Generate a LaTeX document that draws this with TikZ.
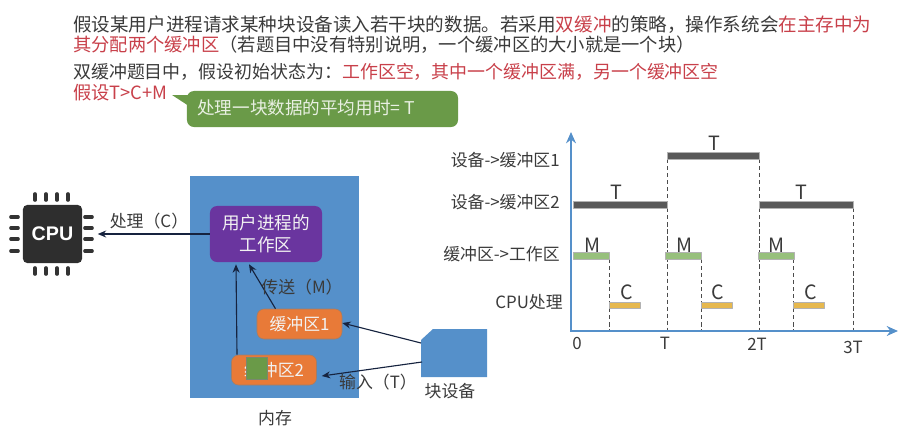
\documentclass[tikz,border=0pt]{standalone}
\usepackage{fontspec}
\setmainfont{Noto Sans CJK SC}
\newfontfamily\chipfont{Liberation Sans}
\usetikzlibrary{arrows.meta,calc,positioning}
\definecolor{memblue}{HTML}{5590CA}
\definecolor{procpurple}{HTML}{6A359F}
\definecolor{bufforange}{HTML}{E87A38}
\definecolor{notegreen}{HTML}{6A9A48}
\definecolor{hilite}{HTML}{C8404A}
\definecolor{inkgray}{HTML}{3A3A3A}
\definecolor{wirenavy}{HTML}{16233F}
\definecolor{movegreen}{HTML}{97C07C}
\definecolor{cpuyellow}{HTML}{E6B84E}
\newcommand{\hl}[1]{\textcolor{hilite}{#1}}
\tikzset{
  bodytext/.style={anchor=west,inner sep=0pt,font=\fontsize{13}{15}\selectfont,text=inkgray},
  label/.style={inner sep=0pt,font=\fontsize{12}{14}\selectfont,text=inkgray},
  barlabel/.style={label,font=\fontsize{14}{16}\selectfont},
  rowlabel/.style={label,anchor=east},
  boxtext/.style={inner sep=0pt,align=center,rounded corners=5pt,font=\fontsize{12}{15}\selectfont,text=white!90!gray},
  buffbox/.style={boxtext,fill=bufforange,draw=gray!70!bufforange,minimum width=2.125cm,minimum height=0.75cm},
  wire/.style={-{Stealth[length=6pt,width=5pt]},thick,draw=wirenavy},
  pin/.style={line width=2.6pt,line cap=round,draw=black!80},
  axisline/.style={-{Stealth[length=8pt,width=7pt]},line width=1.8pt,draw=memblue},
  guide/.style={densely dashed,line width=0.3pt,draw=black!70},
  inbar/.style={fill=black!65,draw=gray!60},
  movebar/.style={fill=movegreen,draw=gray!60},
  cpubar/.style={fill=cpuyellow,draw=gray!60},
}
\begin{document}
\begin{tikzpicture}[x=0.025cm,y=-0.025cm,>=Stealth,line join=round]
\useasboundingbox (0,0) rectangle (921,428);
% text lines on top
\node[bodytext,font=\fontsize{13.2}{15}\selectfont] (line1) at (73,25) {假设某用户进程请求某种块设备读入若干块的数据。若采用\hl{双缓冲}的策略，操作系统会\hl{在主存中为}};
\node[bodytext] (line2) at (73,45) {\hl{其分配两个缓冲区}（若题目中没有特别说明，一个缓冲区的大小就是一个块）};
\node[bodytext,font=\fontsize{12.75}{15}\selectfont] (line3) at (73,72) {双缓冲题目中，假设初始状态为：\hl{工作区空，其中一个缓冲区满，另一个缓冲区空}};
\node[bodytext,text=hilite] (line4) at (73,93) {假设T>C+M};
% green note with its tail
\fill[notegreen] (172,95) -- (192,95) -- (192,108) -- cycle;
\node[boxtext,fill=notegreen,minimum width=6.775cm,minimum height=0.9cm] (note) at (322.5,109) {};
\node[bodytext,font=\fontsize{12.5}{15}\selectfont,text=white!85!notegreen] (notetext) at (197,108) {处理一块数据的平均用时= T};
% cpu chip
\foreach \p in {35,46,57,68} {
  \draw[pin] (\p,194) -- (\p,200);
  \draw[pin] (\p,268) -- (\p,274);
}
\foreach \p in {217,228,239,251} {
  \draw[pin] (11,\p) -- (18,\p);
  \draw[pin] (85,\p) -- (92,\p);
}
\node[fill=black!82,rounded corners=3pt,minimum width=1.475cm,minimum height=1.45cm,inner sep=0pt,text=white,font=\chipfont\bfseries\fontsize{14}{16}\selectfont] (cpu) at (52.5,234) {CPU};
% memory
\node[fill=memblue,minimum width=4.225cm,minimum height=5.55cm,inner sep=0pt] (memory) at (274.5,287) {};
\node[boxtext,fill=procpurple,minimum width=2.8cm,minimum height=1.4cm,font=\fontsize{12.5}{16}\selectfont] (work) at (266,234) {用户进程的\\工作区};
\node[buffbox] (buff1) at (299.5,324) {缓冲区1};
\node[buffbox] (buff2) at (274,370) {缓冲区2};
\fill[notegreen,draw=gray!70!notegreen] (246,357) rectangle (267,379);
% block device
\fill[memblue] (421,340) -- (433,329) -- (487,329) -- (487,377) -- (421,377) -- cycle;
\coordinate (deviceup) at (421,343);
\coordinate (devicelow) at (422,362);
% connectors
\draw[wire,shorten >=11pt] (work.west) -- (cpu.east);
\draw[wire] ($(buff1.north)+(-24,0)$) -- ($(work.south)+(-17,2)$);
\draw[wire] ($(buff2.north)+(-37,0)$) -- ($(work.south)+(-30,2)$);
\draw[wire] (deviceup) -- ($(buff1.east)+(0,-1)$);
\draw[wire] (devicelow) -- ($(buff2.east)+(5,6)$);
% labels
\node[label] (proclabel) at (149,221) {处理（C）};
\node[label] (movelabel) at (302,287) {传送（M）};
\node[label] (inlabel) at (378,382) {输入（T）};
\node[label] (memlabel) at (275,418) {内存};
\node[label] (devlabel) at (450,391) {块设备};
% guides
\foreach \x/\y in {609/259,667/159,701/259,759/159,793/259,853/208} {
  \draw[guide] (\x,\y) -- (\x,331);
}
% axes
\draw[axisline] (571,331) -- (571,132);
\draw[axisline] (570,331) -- (898,331);
% bars
\draw[inbar] (667,152) rectangle (759,159);
\draw[inbar] (573,201) rectangle (667,208);
\draw[inbar] (759,201) rectangle (853,208);
\foreach \x in {573,665,758} {
  \draw[movebar] (\x,252) rectangle ++(36,7);
}
\foreach \x in {609,701,793} {
  \draw[cpubar] (\x,302) rectangle ++(31,6);
}
% bar labels
\node[barlabel] (t1) at (714,143) {T};
\node[barlabel] (t2) at (616,192) {T};
\node[barlabel] (t3) at (801,192) {T};
\foreach \x/\n in {592/m1,684/m2,776/m3} {
  \node[barlabel] (\n) at (\x,245) {M};
}
\foreach \x/\n in {627/c1,718/c2,811/c3} {
  \node[barlabel] (\n) at (\x,292) {C};
}
% row names
\node[rowlabel] (row1) at (560,160) {设备->缓冲区1};
\node[rowlabel] (row2) at (560,202) {设备->缓冲区2};
\node[rowlabel] (row3) at (560,254) {缓冲区->工作区};
\node[rowlabel] (row4) at (563,302) {CPU处理};
% ticks
\node[label] (tick0) at (577,343) {0};
\node[label] (tick1) at (665,343) {T};
\node[label] (tick2) at (757,344) {2T};
\node[label] (tick3) at (853,347) {3T};
\end{tikzpicture}
\end{document}
